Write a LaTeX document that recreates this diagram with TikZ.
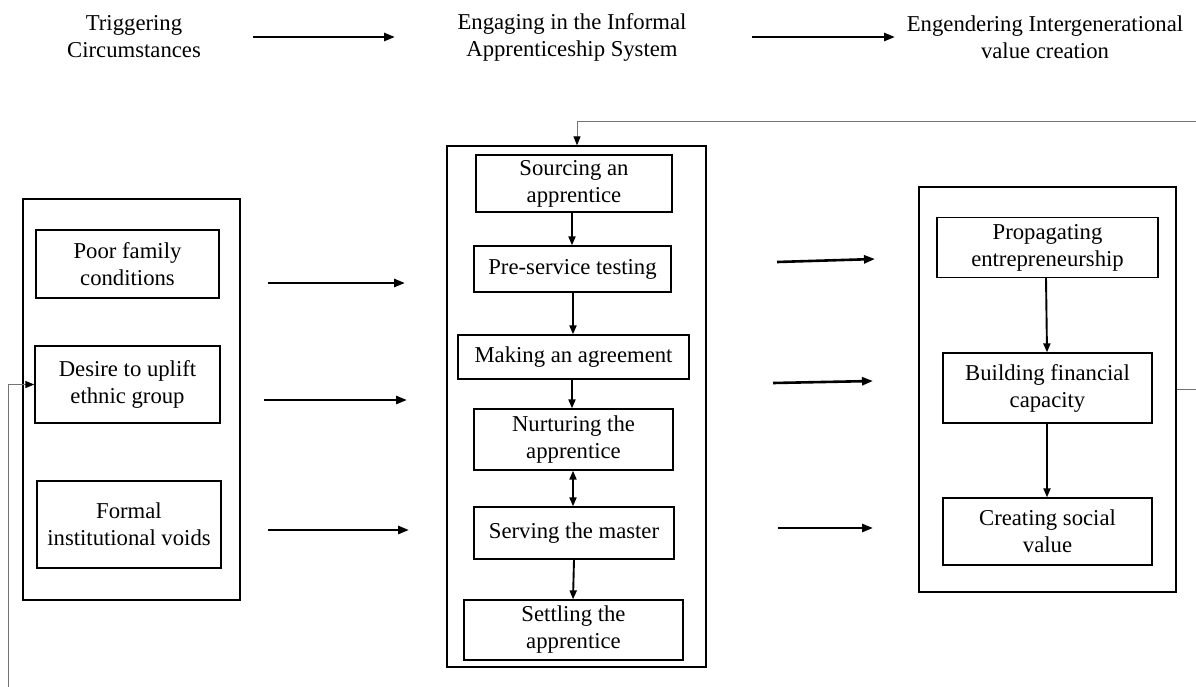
\documentclass[tikz,border=0pt]{standalone}
\usepackage{fontspec}
\setmainfont{Liberation Serif}
\usetikzlibrary{arrows.meta}
\begin{document}
\begin{tikzpicture}[x=1pt,y=-1pt,
  txt/.style={align=center, inner sep=0pt, font=\fontsize{22.7}{27}\selectfont},
  stepbox/.style={txt, draw, line width=1.3pt},
  frame/.style={draw, line width=1.3pt},
  flow/.style={line width=2.6pt, -{Triangle[length=11pt,width=8pt]}},
  link/.style={line width=1.9pt, -{Triangle[length=9pt,width=7pt]}},
  both/.style={line width=1.9pt, {Triangle[length=9pt,width=7pt]}-{Triangle[length=9pt,width=7pt]}},
  back/.style={line width=0.9pt, draw=black!55, -{Triangle[length=9pt,width=7pt,color=black]}}]
\useasboundingbox (0,0) rectangle (1196,686);

% column headings
\node[txt] (h1) at (134,37) {Triggering\\Circumstances};
\node[txt] (h2) at (572,37) {Engaging in the Informal\\Apprenticeship System};
\node[txt] (h3) at (1045,37) {Engendering Intergenerational\\value creation};
\coordinate (h1a) at (253,37); \coordinate (h1b) at (395,37);
\coordinate (h2a) at (752,37); \coordinate (h2b) at (895,37);
\draw[flow] (h1a) -- (h1b);
\draw[flow] (h2a) -- (h2b);

% triggering circumstances
\node[frame, minimum width=217, minimum height=401] (left) at (131.5,399.5) {};
\node[stepbox, minimum width=183, minimum height=68] (poor) at (127.5,264) {Poor family\\conditions};
\node[stepbox, minimum width=185, minimum height=77] (desire) at (127.5,384.5) {Desire to uplift\\ethnic group};
\node[stepbox, minimum width=184, minimum height=87] (formal) at (129,524.5) {Formal\\institutional voids};

% apprenticeship system
\node[frame, minimum width=259, minimum height=521] (mid) at (576.5,406.5) {};
\node[stepbox, minimum width=196, minimum height=57] (source) at (574,183.5) {Sourcing an\\apprentice};
\node[stepbox, minimum width=197, minimum height=46] (pretest) at (572.5,269) {Pre-service testing};
\node[stepbox, minimum width=231, minimum height=44] (agree) at (573.5,357) {Making an agreement};
\node[stepbox, minimum width=199, minimum height=61] (nurture) at (573.5,439.5) {Nurturing the\\apprentice};
\node[stepbox, minimum width=200, minimum height=52] (serve) at (574,533) {Serving the master};
\node[stepbox, minimum width=219, minimum height=60] (settle) at (573.5,630) {Settling the\\apprentice};

\draw[link] (source.south -| 572,0) -- (pretest.north -| 572,0);
\draw[link] (pretest.south -| 573,0) -- (agree.north -| 573,0);
\draw[link] (agree.south -| 572,0) -- (nurture.north -| 572,0);
\draw[both] (nurture.south -| 573,0) -- (serve.north -| 573,0);
\draw[link] (serve.south -| 574,0) -- (settle.north -| 573,0);

% intergenerational value creation
\node[frame, minimum width=257, minimum height=405] (right) at (1047.5,389.5) {};
\node[stepbox, minimum width=221, minimum height=60] (prop) at (1047.5,247.5) {Propagating\\entrepreneurship};
\node[stepbox, minimum width=209, minimum height=70] (build) at (1047.5,388) {Building financial\\capacity};
\node[stepbox, minimum width=209, minimum height=67] (create) at (1047.5,531.5) {Creating social\\value};
\draw[link] (prop.south -| 1046,0) -- (build.north -| 1047,0);
\draw[link] (build.south -| 1047,0) -- (create.north -| 1047,0);

% links between the stages
\coordinate (a1) at (268,283); \coordinate (b1) at (405,283);
\coordinate (a2) at (264,400); \coordinate (b2) at (407,400);
\coordinate (a3) at (268,530); \coordinate (b3) at (409,530);
\draw[flow] (a1) -- (b1);
\draw[flow] (a2) -- (b2);
\draw[flow] (a3) -- (b3);
\coordinate (c1) at (777,262); \coordinate (d1) at (875,259);
\coordinate (c2) at (773,383); \coordinate (d2) at (873,381);
\coordinate (c3) at (778,528); \coordinate (d3) at (873,528);
\draw[flow] (c1) -- (d1);
\draw[flow] (c2) -- (d2);
\draw[flow] (c3) -- (d3);

% feedback loops (their outer legs run past the page edge)
\coordinate (fbR) at (1199,389);
\coordinate (fbT) at (1199,121);
\coordinate (fbL) at (8,690);
\draw[back] (right.east |- fbR) -- (fbR) -- (fbT) -- (577,121) -- (mid.north -| 577,0);
\draw[back] (fbL) -- (8,384.5) -- (desire.west);
\end{tikzpicture}
\end{document}
